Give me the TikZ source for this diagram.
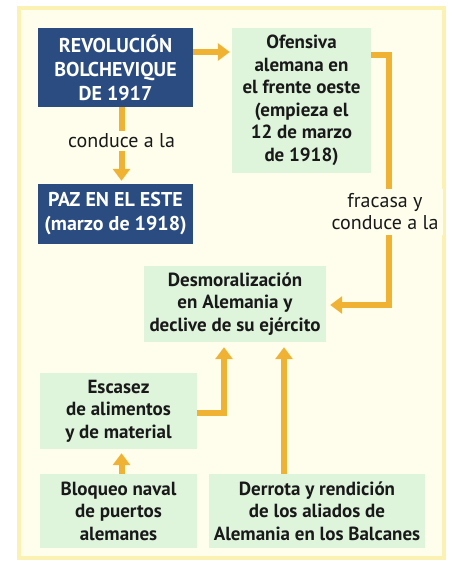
\documentclass[tikz,border=0pt]{standalone}
\usepackage{fontspec}
\setmainfont{PT Sans}
\usetikzlibrary{arrows.meta}
\definecolor{panelfill}{RGB}{255,254,236}
\definecolor{panelrim}{RGB}{250,241,178}
\definecolor{boxblue}{RGB}{42,76,128}
\definecolor{boxgreen}{RGB}{222,245,220}
\definecolor{arrowgold}{RGB}{240,178,50}
\begin{document}
\begin{tikzpicture}[x=1pt,y=-1pt,
		bluebox/.style={fill=boxblue,text=white,font=\bfseries\fontsize{20}{24}\selectfont,
			align=center,inner sep=0pt},
		greenbox/.style={fill=boxgreen,text=black!90,font=\bfseries\fontsize{19}{22.5}\selectfont,
			align=center,inner sep=0pt},
		linklabel/.style={fill=panelfill,text=black!90,font=\fontsize{20}{22}\selectfont,
			align=center,inner sep=3pt},
		goldarrow/.style={draw=arrowgold,line width=6pt,
			-{Triangle[width=17pt,length=12pt]}}]
		\useasboundingbox (0,0) rectangle (453,562);
		\fill[panelrim] (17,6) rectangle (446,560);
		\fill[panelfill] (21,10) rectangle (442,556);
		\node[bluebox,minimum width=155pt,minimum height=79pt] (rev) at (115.5,67.5)
			{REVOLUCIÓN\\BOLCHEVIQUE\\DE 1917};
		\node[greenbox,minimum width=139pt,minimum height=145pt] (ofe) at (301.5,100.5)
			{Ofensiva\\alemana en\\el frente oeste\\(empieza el\\12 de marzo\\de 1918)};
		\node[bluebox,minimum width=155pt,minimum height=60pt] (paz) at (115.5,214)
			{PAZ EN EL ESTE\\(marzo de 1918)};
		\node[greenbox,minimum width=182pt,minimum height=76pt] (des) at (235,304)
			{Desmoralización\\en Alemania y\\declive de su ejército};
		\node[greenbox,minimum width=157pt,minimum height=76pt] (esc) at (118.5,411)
			{Escasez\\de alimentos\\y de material};
		\node[greenbox,minimum width=157pt,minimum height=74pt] (blo) at (118.5,511)
			{Bloqueo naval\\de puertos\\alemanes};
		\node[greenbox,minimum width=216pt,minimum height=74pt] (der) at (317,511)
			{Derrota y rendición\\de los aliados de\\Alemania en los Balcanes};
		\coordinate (bend) at (389,305);
		\draw[goldarrow,shorten >=2pt] (rev.east |- 0,52) -- (ofe.west |- 0,52);
		\draw[goldarrow,shorten >=3pt] ([xshift=6pt]rev.south) -- ([xshift=6pt]paz.north)
			node[linklabel,pos=0.44] (con) {conduce a la};
		\draw[goldarrow,shorten >=4pt] (ofe.east |- 0,55) -| (bend) -- (des.east |- bend);
		\node[linklabel,inner sep=5pt] (fra) at (385,212) {fracasa y\\conduce a la};
		\draw[goldarrow,shorten >=5pt] (esc.east |- 0,413) -| ([xshift=-11pt]des.south);
		\draw[goldarrow,shorten >=5pt] (der.north -| 284,0) -- (des.south -| 284,0);
		\draw[goldarrow,shorten >=4pt] ([xshift=3pt]blo.north) -- ([xshift=3pt]esc.south);
\end{tikzpicture}
\end{document}
